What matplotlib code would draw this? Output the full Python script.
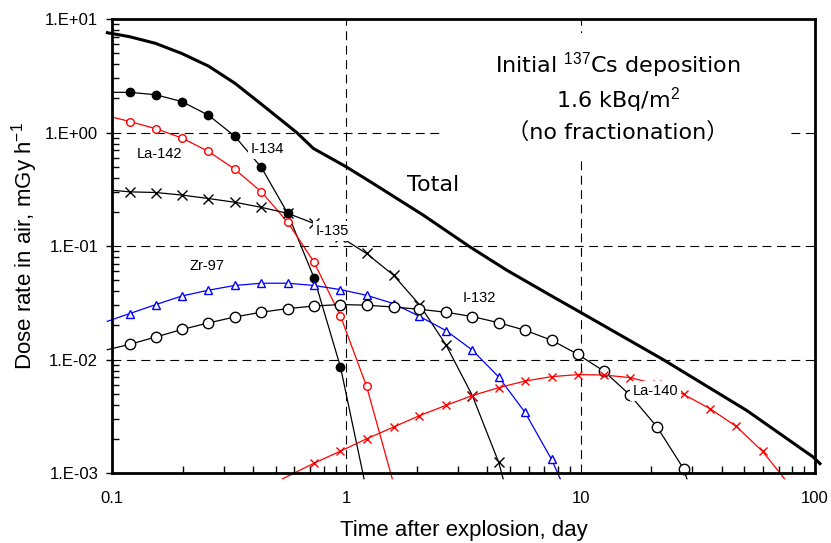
import matplotlib
matplotlib.use('Agg')
import matplotlib.pyplot as plt
from matplotlib.ticker import LogLocator, FuncFormatter, NullFormatter, FixedLocator
from matplotlib.patches import Rectangle
import numpy as np

plt.rcParams['font.family'] = ['Liberation Sans', 'DejaVu Sans']
plt.rcParams['mathtext.fontset'] = 'custom'
plt.rcParams['mathtext.rm'] = 'Liberation Sans'
plt.rcParams['mathtext.it'] = 'Liberation Sans:italic'

# time points (day) where the markers sit
t_mark = [0.119, 0.154, 0.199, 0.258, 0.334, 0.434, 0.562, 0.728, 0.944, 1.22, 1.59,
          2.05, 2.66, 3.45, 4.47, 5.79, 7.51, 9.73, 12.6, 16.3, 21.2, 27.5, 35.6, 46.1, 59.8]

# Total (no markers)
total_t = [0.0955, 0.119, 0.153, 0.198, 0.258, 0.335, 0.428, 0.521, 0.614, 0.723, 1.0, 1.30,
           2.13, 3.37, 4.84, 7.64, 9.93, 22.5, 51.1, 98.4, 105]
total_d = [7.57, 6.98, 6.11, 4.98, 3.85, 2.71, 1.817, 1.313, 1.0, 0.724, 0.498, 0.356,
           0.187, 0.0982, 0.0612, 0.0356, 0.0262, 0.00998, 0.00356, 0.00138, 0.00121]

# I-134 : start at axis, markers, end below axis
i134_t = [0.1] + t_mark[0:9] + [1.19]
i134_d = [2.26, 2.26, 2.15, 1.87, 1.42, 0.929, 0.492, 0.194, 0.0525, 0.00859, 0.00089]

# La-142
la142_t = [0.1] + t_mark[0:10] + [1.57]
la142_d = [1.37, 1.25, 1.08, 0.893, 0.681, 0.475, 0.300, 0.162, 0.0720, 0.0242, 0.00581, 0.00089]

# I-135
i135_t = [0.1] + t_mark[0:15] + [4.67]
i135_d = [0.310, 0.300, 0.296, 0.281, 0.262, 0.243, 0.219, 0.194, 0.158, 0.120, 0.0859,
          0.0553, 0.0305, 0.0135, 0.00481, 0.00124, 0.00089]

# Zr-97
zr97_t = [0.0955] + t_mark[0:17] + [8.18]
zr97_d = [0.0217, 0.0254, 0.0305, 0.0363, 0.0408, 0.0449, 0.0470, 0.0470, 0.0449, 0.0413,
          0.0368, 0.0311, 0.0240, 0.0180, 0.0121, 0.00701, 0.00342, 0.00132, 0.00089]

# I-132
i132_t = [0.0955] + t_mark[0:22] + [28.4]
i132_d = [0.0122, 0.0136, 0.0158, 0.0184, 0.0210, 0.0237, 0.0261, 0.0281, 0.0296, 0.0305,
          0.0301, 0.0290, 0.0277, 0.0261, 0.0239, 0.0211, 0.0181, 0.0148, 0.0111, 0.00787,
          0.00483, 0.00254, 0.00109, 0.00089]

# La-140
la140_t = [0.535] + t_mark[7:25] + [74.1]
la140_d = [0.00089, 0.00122, 0.00156, 0.00200, 0.00254, 0.00320, 0.00394, 0.00481, 0.00565,
           0.00646, 0.00706, 0.00736, 0.00730, 0.00692, 0.00604, 0.00493, 0.00369, 0.00258,
           0.00155, 0.00089]

fig = plt.figure(figsize=(8.31, 5.43), dpi=100)
ax = fig.add_axes([0.1348, 0.1289, 0.8459, 0.8361])
ax.set_xscale('log')
ax.set_yscale('log')
ax.set_xlim(0.1, 100)
ax.set_ylim(1e-3, 10)

# grid (decades only)
for v in [1, 10]:
    ax.axvline(v, color='black', lw=0.8, ls=(0, (8, 5)), zorder=1)
for v in [1e-2, 1e-1, 1]:
    ax.axhline(v, color='black', lw=0.8, ls=(0, (8, 5)), zorder=1)

# white box behind the annotation
ax.add_patch(Rectangle((0.471, 0.689), 0.493, 0.28, transform=ax.transAxes,
                       facecolor='white', edgecolor='none', zorder=1.5))

common = dict(clip_on=False, zorder=3)
ax.plot(total_t, total_d, color='black', lw=2.2, **common)
ax.plot(i134_t, i134_d, color='black', lw=0.9, marker='o', ms=6, mfc='black', mec='black',
        markevery=list(range(1, len(i134_t) - 1)), **common)
ax.plot(la142_t, la142_d, color='red', lw=0.9, marker='o', ms=5.5, mfc='white', mec='red',
        markevery=list(range(1, len(la142_t) - 1)), **common)
ax.plot(i135_t, i135_d, color='black', lw=0.9, marker='x', ms=7, mew=1.0,
        markevery=list(range(1, len(i135_t) - 1)), **common)
ax.plot(zr97_t, zr97_d, color='blue', lw=0.9, marker='^', ms=5.5, mfc='white', mec='blue',
        markevery=list(range(1, len(zr97_t) - 1)), **common)
ax.plot(i132_t, i132_d, color='black', lw=0.9, marker='o', ms=7.5, mfc='white', mec='black',
        markevery=list(range(1, len(i132_t) - 1)), **common)
ax.plot(la140_t, la140_d, color='red', lw=0.9, marker='x', ms=6, mew=1.0,
        markevery=list(range(1, len(la140_t) - 1)), **common)

# series labels (white background hides the lines underneath)
lbl = dict(fontsize=10.5, ha='center', va='center', zorder=5,
           bbox=dict(facecolor='white', edgecolor='none', pad=2))
ax.text(0.159, 0.645, 'La-142', **lbl)
ax.text(0.46, 0.71, 'I-134', **lbl)
ax.text(0.87, 0.135, 'I-135', **lbl)
ax.text(0.254, 0.0664, 'Zr-97', **lbl)
ax.text(3.68, 0.0351, 'I-132', **lbl)
ax.text(20.8, 0.00525, 'La-140', **lbl)
ax.text(2.34, 0.344, 'Total', fontsize=16, ha='center', va='center', family=['DejaVu Sans'], zorder=5)

ann = dict(fontsize=16, ha='center', va='center', transform=ax.transAxes, zorder=5,
           family=['DejaVu Sans', 'Noto Sans CJK JP'])
ax.text(0.720, 0.899, 'Initial $^{137}$Cs deposition', **ann)
ax.text(0.720, 0.822, '1.6 kBq/m$^{2}$', **ann)
ax.text(0.720, 0.751, '（no fractionation）', **ann)

# axes styling
for s in ax.spines.values():
    s.set_linewidth(2)
    s.set_zorder(6)
ax.xaxis.set_major_locator(FixedLocator([0.1, 1, 10, 100]))
ax.xaxis.set_major_formatter(FuncFormatter(lambda v, p: f'{v:g}'))
ax.xaxis.set_minor_locator(LogLocator(base=10, subs=np.arange(2, 10)))
ax.xaxis.set_minor_formatter(NullFormatter())
ax.yaxis.set_major_locator(FixedLocator([1e-3, 1e-2, 1e-1, 1, 10]))
ax.yaxis.set_major_formatter(FuncFormatter(lambda v, p: f'1.E{int(round(np.log10(v))):+03d}'))
ax.yaxis.set_minor_locator(LogLocator(base=10, subs=np.arange(2, 10)))
ax.yaxis.set_minor_formatter(NullFormatter())
ax.tick_params(axis='both', which='minor', direction='in', length=5, width=1)
ax.tick_params(axis='x', which='major', length=0, pad=13, labelsize=12)
ax.tick_params(axis='y', which='major', direction='out', length=4, width=1, pad=6, labelsize=12)

ax.set_xlabel('Time after explosion, day', fontsize=16, labelpad=10)
ax.set_ylabel('Dose rate in air, mGy h$^{-1}$', fontsize=16, labelpad=3.5)

fig.savefig('out.png', dpi=100)
